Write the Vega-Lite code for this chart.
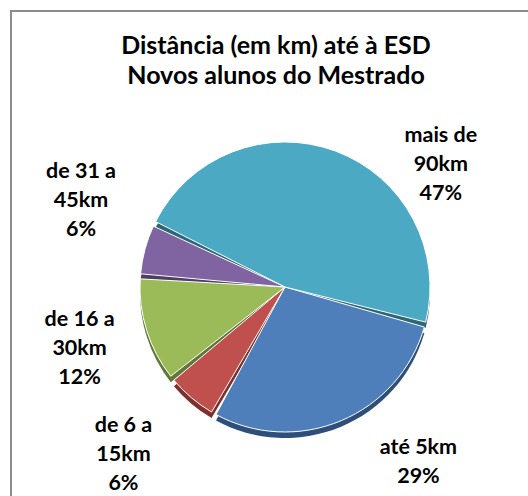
{
  "$schema": "https://vega.github.io/schema/vega-lite/v6.json",
  "autosize": "none",
  "width": 518,
  "height": 486,
  "padding": {"left": 10, "top": 10, "right": 0, "bottom": 0},
  "background": "white",
  "title": {
    "text": ["Distância (em km) até à ESD", "Novos alunos do Mestrado"],
    "font": "Lato",
    "fontSize": 25,
    "fontWeight": "bold",
    "color": "#000000",
    "anchor": "middle",
    "offset": -79,
    "lineHeight": 30,
    "dx": 7
  },
  "data": {
    "values": [
      {"faixa": "até 5km", "pct": 29, "ord": 1, "label": "até 5km\n29%"},
      {"faixa": "de 6 a 15km", "pct": 6, "ord": 2, "label": "de 6 a\n15km\n6%"},
      {"faixa": "de 16 a 30km", "pct": 12, "ord": 3, "label": "de 16 a\n30km\n12%"},
      {"faixa": "de 31 a 45km", "pct": 6, "ord": 4, "label": "de 31 a\n45km\n6%"},
      {"faixa": "mais de 90km", "pct": 47, "ord": 5, "label": "mais de\n90km\n47%"}
    ]
  },
  "layer": [
    {
      "data": {"values": [{}]},
      "mark": {"type": "rect", "fill": null, "stroke": "#8c8c8c", "strokeWidth": 2, "clip": true},
      "encoding": {"x": {"value": 1}, "x2": {"value": 560}, "y": {"value": 1}, "y2": {"value": 560}}
    },
    {
      "encoding": {
        "theta": {"field": "pct", "type": "quantitative", "stack": true, "scale": {"range": [1.833, 8.116]}},
        "order": {"field": "ord", "type": "quantitative"}
      },
      "layer": [
        {
          "mark": {"type": "arc", "radius": 145, "x": 275, "y": 283, "padAngle": 0.035},
          "encoding": {
            "color": {"field": "faixa", "type": "nominal", "legend": null,
              "scale": {"domain": ["até 5km", "de 6 a 15km", "de 16 a 30km", "de 31 a 45km", "mais de 90km"],
                        "range": ["#2d4f7a", "#7d302e", "#62783a", "#4f3d66", "#2c6677"]}}
          }
        },
        {
          "mark": {"type": "arc", "radius": 145, "x": 275, "y": 277, "padAngle": 0.035, "stroke": "#ffffff", "strokeWidth": 1},
          "encoding": {
            "color": {"field": "faixa", "type": "nominal", "legend": null,
              "scale": {"domain": ["até 5km", "de 6 a 15km", "de 16 a 30km", "de 31 a 45km", "mais de 90km"],
                        "range": ["#4f7fba", "#c0504d", "#9bbb59", "#8064a2", "#4ba9c3"]}}
          }
        },
        {
          "mark": {"type": "text", "radius": 217, "thetaOffset": 0.445, "x": 275, "y": 277, "font": "Lato", "fontSize": 21.5, "fontWeight": "bold", "lineBreak": "\n", "lineHeight": 29, "align": "center", "baseline": "middle", "color": "#000000"},
          "encoding": {"text": {"condition": {"test": "datum.faixa === 'mais de 90km'", "field": "label", "type": "nominal"}, "value": ""}}
        },
        {
          "mark": {"type": "text", "radius": 209, "thetaOffset": -0.295, "x": 275, "y": 277, "font": "Lato", "fontSize": 21.5, "fontWeight": "bold", "lineBreak": "\n", "lineHeight": 29, "align": "center", "baseline": "middle", "color": "#000000"},
          "encoding": {"text": {"condition": {"test": "datum.faixa === 'até 5km'", "field": "label", "type": "nominal"}, "value": ""}}
        },
        {
          "mark": {"type": "text", "radius": 213, "thetaOffset": 0.159, "x": 275, "y": 277, "font": "Lato", "fontSize": 21.5, "fontWeight": "bold", "lineBreak": "\n", "lineHeight": 29, "align": "center", "baseline": "middle", "color": "#000000"},
          "encoding": {"text": {"condition": {"test": "datum.faixa === 'de 6 a 15km'", "field": "label", "type": "nominal"}, "value": ""}}
        },
        {
          "mark": {"type": "text", "radius": 208, "thetaOffset": 0.145, "x": 275, "y": 277, "font": "Lato", "fontSize": 21.5, "fontWeight": "bold", "lineBreak": "\n", "lineHeight": 29, "align": "center", "baseline": "middle", "color": "#000000"},
          "encoding": {"text": {"condition": {"test": "datum.faixa === 'de 16 a 30km'", "field": "label", "type": "nominal"}, "value": ""}}
        },
        {
          "mark": {"type": "text", "radius": 234, "thetaOffset": 0.25, "x": 275, "y": 277, "font": "Lato", "fontSize": 21.5, "fontWeight": "bold", "lineBreak": "\n", "lineHeight": 29, "align": "center", "baseline": "middle", "color": "#000000"},
          "encoding": {"text": {"condition": {"test": "datum.faixa === 'de 31 a 45km'", "field": "label", "type": "nominal"}, "value": ""}}
        }
      ],
      "resolve": {"scale": {"color": "independent"}}
    }
  ]
}
